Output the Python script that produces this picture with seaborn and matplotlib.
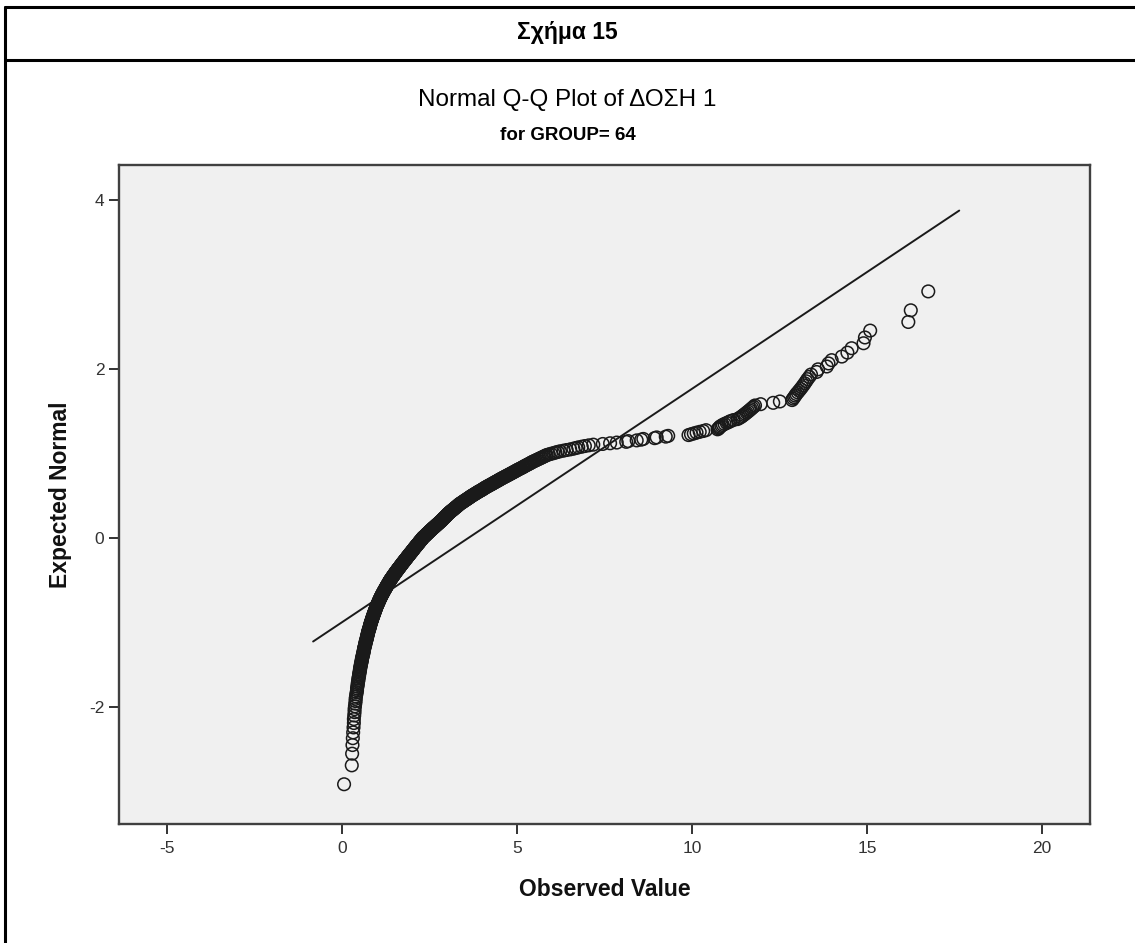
import numpy as np
import pandas as pd
import matplotlib
matplotlib.use("Agg")
import matplotlib.pyplot as plt
from matplotlib.lines import Line2D
import seaborn as sns
from statistics import NormalDist

obs_tail_low = [0.06, 0.28, 0.29, 0.30, 0.31, 0.32, 0.33, 0.34, 0.34, 0.35,
                0.36, 0.36, 0.37, 0.38, 0.39, 0.39, 0.40, 0.41, 0.42, 0.43]
obs_band_a = [0.43, 0.44, 0.45, 0.45, 0.46, 0.47, 0.47, 0.48, 0.49, 0.49,
              0.50, 0.51, 0.51, 0.52, 0.52, 0.53, 0.54, 0.54, 0.55, 0.56,
              0.56, 0.57, 0.57, 0.58, 0.59,
              0.59, 0.60, 0.61, 0.61, 0.62, 0.62, 0.63, 0.63, 0.64, 0.64,
              0.65, 0.66, 0.66, 0.67, 0.67, 0.68, 0.68, 0.69, 0.70,
              0.70, 0.71, 0.71, 0.72, 0.72, 0.73, 0.73, 0.74, 0.74, 0.75,
              0.75, 0.76, 0.76, 0.77, 0.78, 0.78, 0.79, 0.79, 0.80, 0.80,
              0.81, 0.81, 0.82, 0.82, 0.83]
obs_band_b = [0.83, 0.84, 0.85, 0.85, 0.86, 0.86, 0.87, 0.87, 0.88, 0.89,
              0.89, 0.90, 0.90, 0.91,
              0.91, 0.92, 0.93, 0.93, 0.94, 0.94, 0.95, 0.95, 0.96, 0.97,
              0.97, 0.98, 0.98, 0.99, 0.99, 1.00,
              1.01, 1.01, 1.02, 1.03, 1.03, 1.04, 1.05, 1.05, 1.06, 1.06,
              1.07, 1.08, 1.08, 1.09, 1.10, 1.10, 1.11,
              1.12, 1.12, 1.13, 1.14, 1.14, 1.15, 1.16, 1.17, 1.17, 1.18,
              1.19, 1.19, 1.20, 1.21, 1.22, 1.22, 1.23, 1.24]
obs_band_c = [1.25, 1.25, 1.26, 1.27, 1.27, 1.28, 1.29, 1.30, 1.30, 1.31,
              1.32, 1.33, 1.33, 1.34, 1.35, 1.35, 1.36, 1.37, 1.38,
              1.38, 1.39, 1.40, 1.41, 1.42, 1.43, 1.43, 1.44, 1.45, 1.46,
              1.47, 1.48, 1.48, 1.49, 1.50, 1.51, 1.52, 1.53, 1.53, 1.54,
              1.55, 1.56, 1.57, 1.58, 1.59, 1.59, 1.60, 1.61, 1.62, 1.63,
              1.64, 1.65, 1.66, 1.66, 1.67, 1.68, 1.69, 1.70, 1.71, 1.72, 1.72,
              1.73, 1.74, 1.75, 1.76, 1.77, 1.78, 1.79, 1.79, 1.80, 1.81,
              1.82, 1.83, 1.84, 1.85, 1.86, 1.86, 1.87, 1.88, 1.89, 1.90,
              1.91, 1.92]
obs_band_d = [1.93, 1.93, 1.94, 1.95, 1.96, 1.97, 1.98, 1.99, 2.00, 2.00,
              2.01, 2.02, 2.03, 2.04, 2.05, 2.06, 2.06, 2.07, 2.08, 2.09,
              2.10, 2.11,
              2.12, 2.13, 2.13, 2.14, 2.15, 2.16, 2.17, 2.18, 2.19, 2.20,
              2.21, 2.21, 2.22, 2.23, 2.24, 2.25, 2.26, 2.27, 2.28, 2.29,
              2.29, 2.30, 2.31,
              2.32, 2.33, 2.34, 2.36, 2.37, 2.38, 2.39, 2.40, 2.41, 2.42,
              2.43, 2.45, 2.46, 2.47, 2.48, 2.49, 2.50, 2.51, 2.52, 2.54,
              2.55, 2.56]
obs_band_e = [2.57, 2.58, 2.59, 2.61, 2.62, 2.63, 2.64, 2.66, 2.67, 2.68,
              2.69, 2.70, 2.72, 2.73, 2.74, 2.75, 2.77, 2.78, 2.79, 2.80,
              2.81, 2.83,
              2.84, 2.85, 2.86, 2.87, 2.88, 2.89, 2.90, 2.91, 2.92, 2.94,
              2.95, 2.96, 2.97, 2.98, 2.99, 3.00, 3.01, 3.02, 3.03, 3.05,
              3.06, 3.07,
              3.08, 3.10, 3.11, 3.12, 3.14, 3.15, 3.17, 3.18, 3.19, 3.21,
              3.22, 3.23, 3.25, 3.26, 3.28, 3.29, 3.30, 3.32, 3.33, 3.34, 3.36]
obs_band_f = [3.37, 3.39, 3.41, 3.43, 3.44, 3.46, 3.48, 3.50, 3.51, 3.53,
              3.55, 3.57, 3.59, 3.60, 3.62, 3.64, 3.66, 3.67, 3.69, 3.71,
              3.73, 3.75, 3.77, 3.79, 3.81, 3.83, 3.85, 3.87, 3.89, 3.91,
              3.93, 3.96, 3.98, 4.00, 4.02, 4.04, 4.06, 4.08, 4.10,
              4.12, 4.15, 4.17, 4.19, 4.22, 4.24, 4.27, 4.29, 4.31, 4.34,
              4.36, 4.38, 4.41, 4.43, 4.46, 4.48, 4.50, 4.53, 4.55]
obs_band_g = [4.58, 4.60, 4.63, 4.66, 4.68, 4.71, 4.74, 4.76, 4.79, 4.82,
              4.84, 4.87, 4.90, 4.92, 4.95, 4.98,
              5.00, 5.03, 5.06, 5.09, 5.12, 5.15, 5.18, 5.20, 5.23, 5.26,
              5.29, 5.32, 5.35, 5.38, 5.41, 5.43,
              5.47, 5.50, 5.54, 5.57, 5.61, 5.64, 5.68, 5.71, 5.75, 5.78, 5.82]
obs_upper = [5.85, 5.91, 5.97, 6.04, 6.10, 6.16, 6.23, 6.33, 6.42, 6.52,
             6.61, 6.68, 6.75, 6.85, 6.94, 7.05, 7.18, 7.45, 7.66, 7.85,
             8.12, 8.18, 8.42, 8.55, 8.61, 8.93, 8.99, 9.25, 9.32,
             9.90, 9.97, 10.05, 10.13, 10.22, 10.32, 10.40,
             10.73, 10.76, 10.78, 10.80, 10.84, 10.88, 10.93, 10.99, 11.05,
             11.10, 11.18]
obs_tail_high = [11.30, 11.35, 11.40, 11.44, 11.48, 11.52, 11.56, 11.60,
                 11.64, 11.68, 11.72, 11.76, 11.80, 11.96, 12.32, 12.51,
                 12.86, 12.89, 12.92, 12.95, 12.98, 13.02, 13.06, 13.10,
                 13.14, 13.18, 13.22, 13.26, 13.30, 13.35, 13.40,
                 13.56, 13.60, 13.85, 13.90, 13.99, 14.28, 14.44, 14.56,
                 14.90, 14.94, 15.09, 16.18, 16.25, 16.75]

x_ticks = [-5, 0, 5, 10, 15, 20]
y_ticks = [-2, 0, 2, 4]

header_text = "Σχήμα 15"
title_text = "Normal Q-Q Plot of ΔΟΣΗ 1"
subtitle_text = "for GROUP= 64"
x_label = "Observed Value"
y_label = "Expected Normal"

# ---- Q-Q computation (rank-based normal scores r/(n+1)) ----
observed = np.sort(np.concatenate([obs_tail_low, obs_band_a, obs_band_b,
                                   obs_band_c, obs_band_d, obs_band_e,
                                   obs_band_f, obs_band_g, obs_upper,
                                   obs_tail_high]))
n = len(observed)
nd = NormalDist()
expected = np.array([nd.inv_cdf(r / (n + 1)) for r in range(1, n + 1)])
df = pd.DataFrame({"obs": observed, "exp": expected})

mean, sd = observed.mean(), observed.std(ddof=1)
rng = observed.max() - observed.min()
lx = np.array([observed.min() - 0.053 * rng, observed.max() + 0.053 * rng])
line_df = pd.DataFrame({"obs": lx, "exp": (lx - mean) / sd})

# ---- style ----
sns.set_theme(style="white")
plt.rcParams['font.family'] = ['Liberation Sans', 'DejaVu Sans']
plt.rcParams['axes.unicode_minus'] = False

W, H = 1135, 943
fig = plt.figure(figsize=(W / 100, H / 100), dpi=100)
fig.patch.set_facecolor('white')

L, R, T, B = 119, 1090, 165, 824
ax = fig.add_axes([L / W, 1 - B / H, (R - L) / W, (B - T) / H])
ax.set_facecolor('#F0F0F0')

sns.lineplot(data=line_df, x="obs", y="exp", ax=ax, color='#1a1a1a',
             linewidth=1.4, zorder=3)
sns.scatterplot(data=df, x="obs", y="exp", ax=ax, marker='o', s=82,
                facecolor='none', edgecolor='#1a1a1a', linewidth=1.1,
                zorder=4)

ax.set_xlim(-6.37, 21.37)
ax.set_ylim(-3.385, 4.41)
ax.set_xticks(x_ticks)
ax.set_yticks(y_ticks)
ax.set_xticklabels([str(v) for v in x_ticks])
ax.set_yticklabels([str(v) for v in y_ticks])
ax.tick_params(axis='both', which='major', direction='out', length=7.5,
               width=1.4, colors='#333333', labelsize=12.5, pad=3,
               bottom=True, left=True, top=False, right=False)
ax.tick_params(axis='x', pad=5)
for sp in ax.spines.values():
    sp.set_visible(True)
    sp.set_color('#404040')
    sp.set_linewidth(1.7)

ax.set_xlabel(x_label, fontsize=16.5, fontweight='bold', color='#111111')
ax.set_ylabel(y_label, fontsize=16.5, fontweight='bold', color='#111111')
ax.xaxis.label.set_va('center')
ax.yaxis.label.set_va('center')
ax.xaxis.set_label_coords(0.5, (B - 889) / (B - T))
ax.yaxis.set_label_coords((60 - L) / (R - L), 0.5)

# ---- header, titles, frame ----
fig.text(0.5, 1 - 33 / H, header_text, ha='center', va='center',
         fontsize=16.5, fontweight='bold', color='black')
fig.text(0.5, 1 - 100 / H, title_text, ha='center', va='center',
         fontsize=17.5, color='black')
fig.text(0.5, 1 - 136 / H, subtitle_text, ha='center', va='center',
         fontsize=13.5, fontweight='bold', color='black')

lw = 2.2
fig.add_artist(Line2D([5 / W, 1], [1 - 7 / H, 1 - 7 / H], transform=fig.transFigure,
                      color='black', linewidth=lw))
fig.add_artist(Line2D([5 / W, 1], [1 - 60 / H, 1 - 60 / H], transform=fig.transFigure,
                      color='black', linewidth=lw))
fig.add_artist(Line2D([5 / W, 5 / W], [1 - 7 / H, 0], transform=fig.transFigure,
                      color='black', linewidth=lw))

fig.savefig("out.png", dpi=100, facecolor='white')
